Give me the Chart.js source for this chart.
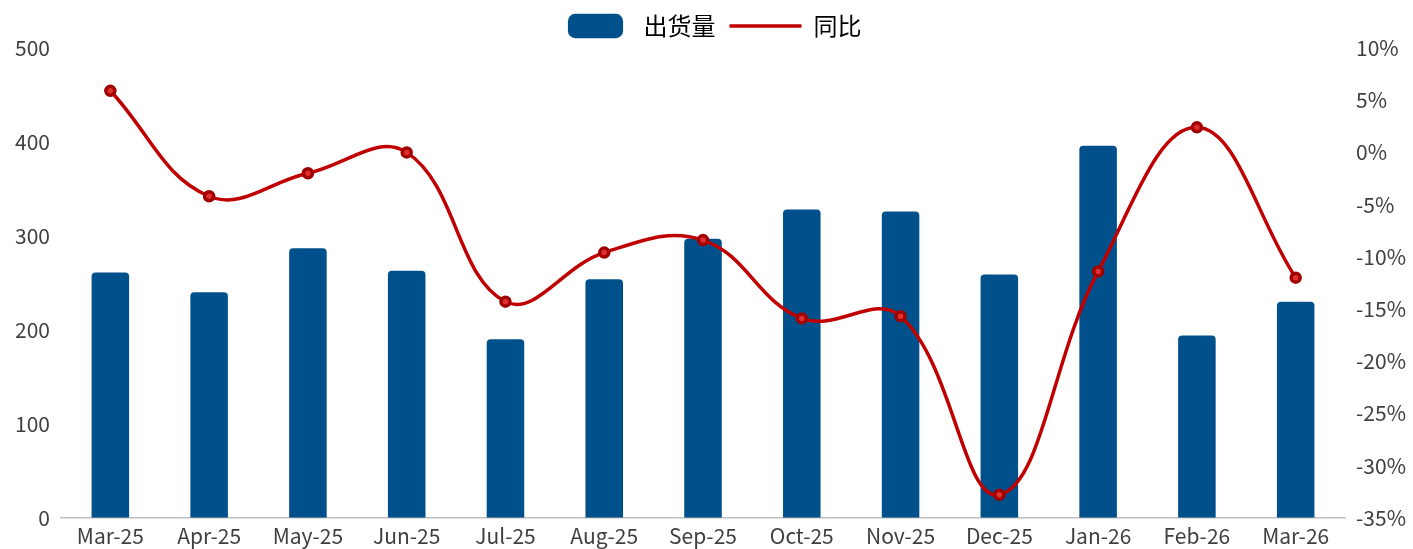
<!DOCTYPE html>
<html><head><meta charset="utf-8">
<script src="https://cdn.jsdelivr.net/npm/chart.js@4"></script>
<style>body{margin:0;background:#fff}#wrap{width:1413px;height:549px}</style>
</head><body><div id="wrap"><canvas id="c"></canvas></div>
<script>
let labels = ['Mar-25','Apr-25','May-25','Jun-25','Jul-25','Aug-25','Sep-25','Oct-25','Nov-25','Dec-25','Jan-26','Feb-26','Mar-26'];
let shipments = [261, 240, 287, 263, 190, 254, 297, 328, 326, 259, 396, 194, 230];
let yoy = [5.9, -4.2, -2.0, 0.0, -14.3, -9.6, -8.4, -15.9, -15.7, -32.8, -11.4, 2.4, -12.0];

Chart.defaults.font.family = '"Noto Sans CJK SC", "Noto Sans", sans-serif';
Chart.defaults.font.size = 21;
Chart.defaults.color = '#404040';

new Chart(document.getElementById('c'), {
    data: {
        labels: labels,
        datasets: [{
            type: 'line', label: '同比', data: yoy, yAxisID: 'y1',
            borderColor: '#C00000', backgroundColor: '#C00000', borderWidth: 3.5,
            pointRadius: 4.5, pointBackgroundColor: '#E03030', pointBorderColor: '#A00000',
            tension: 0.4, order: 0
        }, {
            type: 'bar', label: '出货量', data: shipments, yAxisID: 'y',
            backgroundColor: '#00518B', barPercentage: 0.38, categoryPercentage: 1,
            borderRadius: 4, borderSkipped: 'bottom', order: 1
        }]
    },
    options: {
        responsive: true, maintainAspectRatio: false, animation: false,
        layout: { padding: { left: 12, right: 4, top: 0, bottom: -6 } },
        plugins: {
            legend: {
                reverse: true,
                labels: {
                    font: { size: 24 }, color: '#000', usePointStyle: true, pointStyleWidth: 72,
                    boxHeight: 20, padding: 14,
                    generateLabels: function (chart) {
                        let items = Chart.defaults.plugins.legend.labels.generateLabels(chart);
                        items.forEach(function (it) {
                            if (it.datasetIndex === 0) { it.pointStyle = 'line'; it.lineWidth = 3.5; it.strokeStyle = '#C00000'; }
                            else { it.pointStyle = 'rectRounded'; it.lineWidth = 0; }
                        });
                        return items;
                    }
                }
            }
        },
        scales: {
            x: { grid: { display: false, drawTicks: false }, border: { color: '#BFBFBF', width: 1.5 },
                 ticks: { color: '#404040', padding: 6 } },
            y: { position: 'left', min: 0, max: 500, grid: { display: false }, border: { display: false },
                 ticks: { stepSize: 100, color: '#404040' } },
            y1: { position: 'right', min: -35, max: 10, grid: { display: false }, border: { display: false },
                  ticks: { stepSize: 5, color: '#404040', callback: v => v + '%' } }
        }
    }
});
</script></body></html>
